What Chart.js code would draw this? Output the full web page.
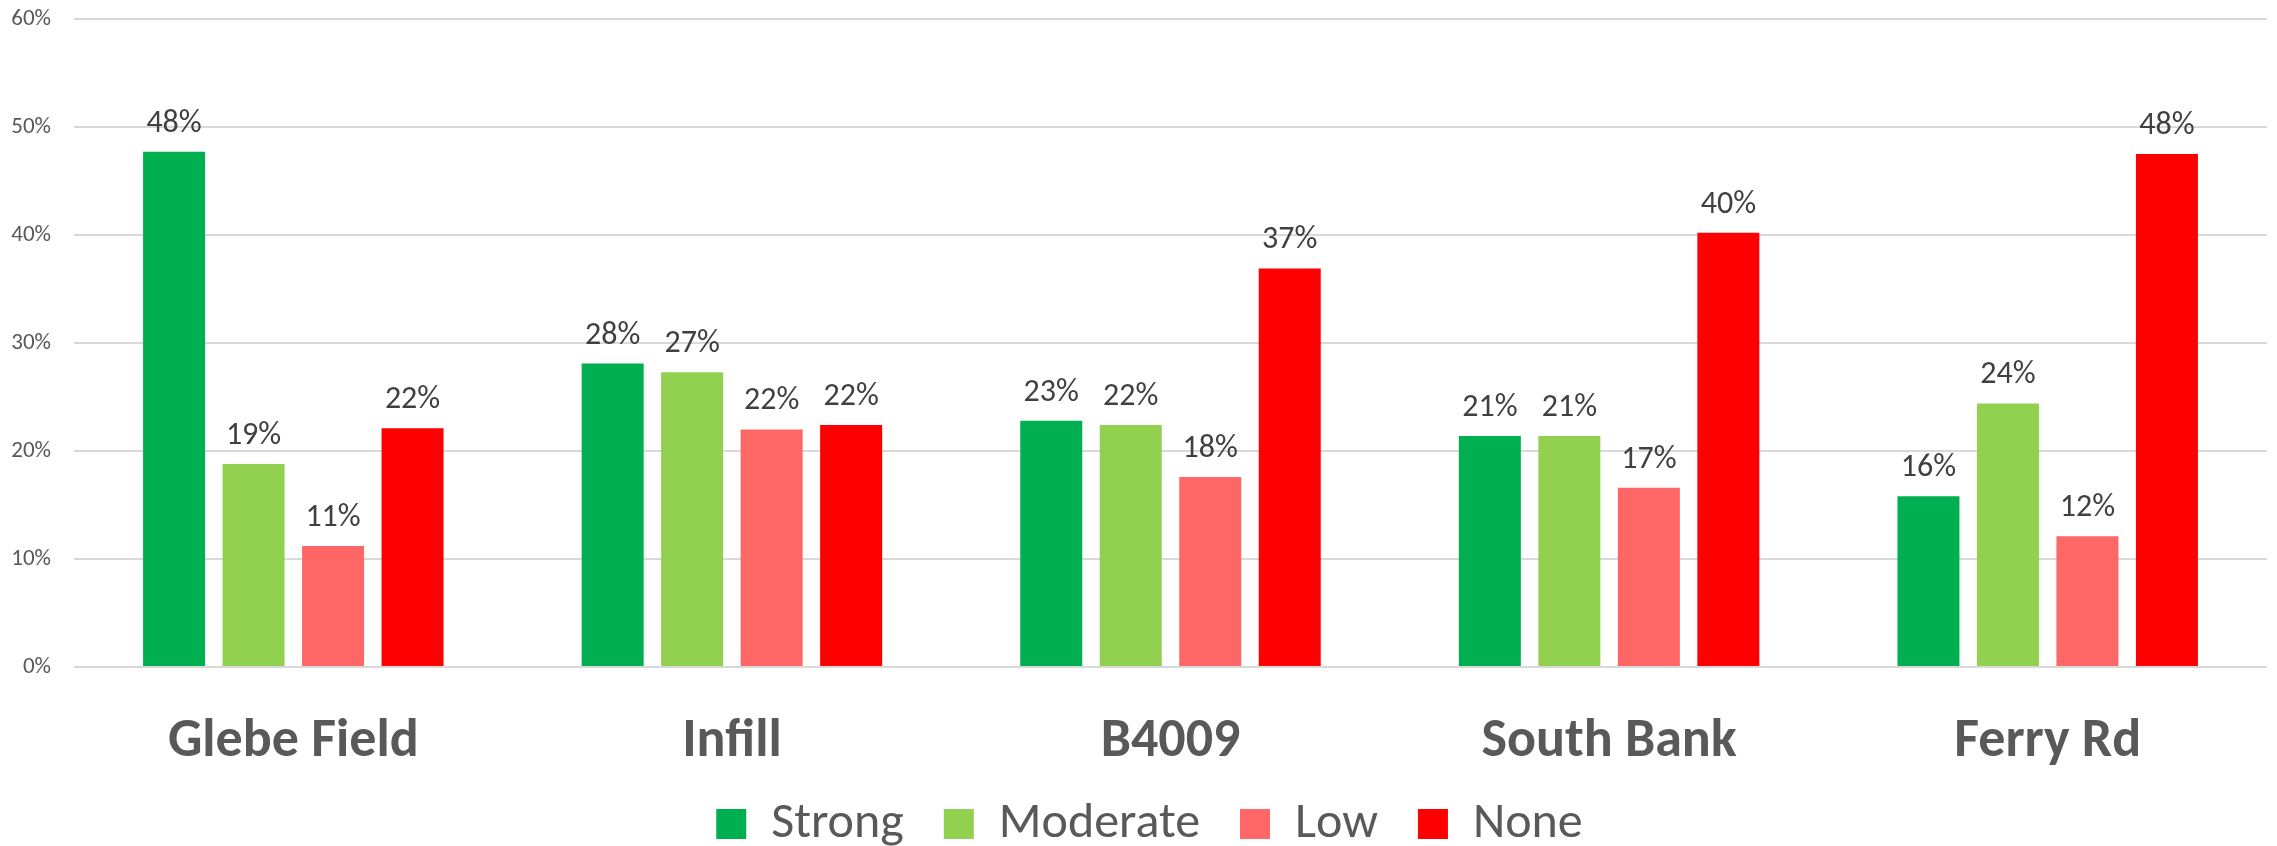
<!DOCTYPE html>
<html>
<head>
<meta charset="utf-8">
<script src="https://cdn.jsdelivr.net/npm/chart.js@4.4.1/dist/chart.umd.min.js"></script>
<style>
  html, body { margin: 0; padding: 0; background: #ffffff; }
  #wrap { width: 2277px; height: 846px; position: relative; }
</style>
</head>
<body>
<div id="wrap"><canvas id="c" width="2277" height="846"></canvas></div>
<script>
const categories = ["Glebe Field", "Infill", "B4009", "South Bank", "Ferry Rd"];
const seriesNames = ["Strong", "Moderate", "Low", "None"];
const strongValues   = [47.7, 28.1, 22.8, 21.4, 15.8];
const moderateValues = [18.8, 27.3, 22.4, 21.4, 24.4];
const lowValues      = [11.2, 22.0, 17.6, 16.6, 12.1];
const noneValues     = [22.1, 22.4, 36.9, 40.2, 47.5];
const yTickValues = [0, 10, 20, 30, 40, 50, 60];

const colors = ["#00B050", "#92D050", "#FF6666", "#FF0000"];
const FONT = "Carlito, Calibri, Lato, sans-serif";

const dataLabelPlugin = {
  id: 'dataLabels',
  afterDatasetsDraw(chart) {
    const ctx = chart.ctx;
    ctx.save();
    ctx.font = "32px " + FONT;
    ctx.fillStyle = "#404040";
    ctx.textAlign = "center";
    ctx.textBaseline = "alphabetic";
    chart.data.datasets.forEach((ds, i) => {
      const meta = chart.getDatasetMeta(i);
      meta.data.forEach((bar, j) => {
        const v = ds.data[j];
        ctx.fillText(Math.round(v) + "%", bar.x, bar.y - 20);
      });
    });
    ctx.restore();
  }
};

// nudge the legend block to sit where the reference places it
const legendNudge = {
  id: 'legendNudge',
  afterLayout(chart) {
    const lg = chart.legend;
    if (!lg) return;
    lg.left += 16; lg.right += 16;
    lg.top -= 18; lg.bottom -= 18;
  }
};

new Chart(document.getElementById('c'), {
  type: 'bar',
  data: {
    labels: categories,
    datasets: [
      { label: seriesNames[0], data: strongValues, backgroundColor: colors[0] },
      { label: seriesNames[1], data: moderateValues, backgroundColor: colors[1] },
      { label: seriesNames[2], data: lowValues, backgroundColor: colors[2] },
      { label: seriesNames[3], data: noneValues, backgroundColor: colors[3] }
    ]
  },
  options: {
    responsive: false,
    animation: false,
    devicePixelRatio: 1,
    layout: { padding: { left: 0, right: 10, top: 19, bottom: -31 } },
    datasets: { bar: { categoryPercentage: 0.725, barPercentage: 0.78 } },
    scales: {
      x: {
        grid: { display: false, drawTicks: false },
        border: { display: false },
        ticks: {
          padding: 43,
          color: "#595959",
          font: { family: FONT, size: 54, weight: 'bold' }
        },
        afterFit(scale) { scale.height = 110; }
      },
      y: {
        min: 0, max: 60,
        afterBuildTicks(scale) { scale.ticks = yTickValues.map(v => ({ value: v })); },
        grid: { color: "#d9d9d9", lineWidth: 2, drawTicks: false },
        border: { display: false },
        ticks: {
          padding: 23,
          color: "#595959",
          font: { family: FONT, size: 23 },
          callback: v => v + "%"
        },
        afterFit(scale) {
          scale.width = 74;
          scale.paddingTop = 0;
          scale.paddingBottom = 0;
        }
      }
    },
    plugins: {
      legend: {
        position: 'bottom',
        labels: {
          boxWidth: 30,
          boxHeight: 30,
          padding: 40,
          color: "#595959",
          font: { family: FONT, size: 50 }
        }
      },
      tooltip: { enabled: false },
      title: { display: false }
    }
  },
  plugins: [dataLabelPlugin, legendNudge]
});
</script>
</body>
</html>
